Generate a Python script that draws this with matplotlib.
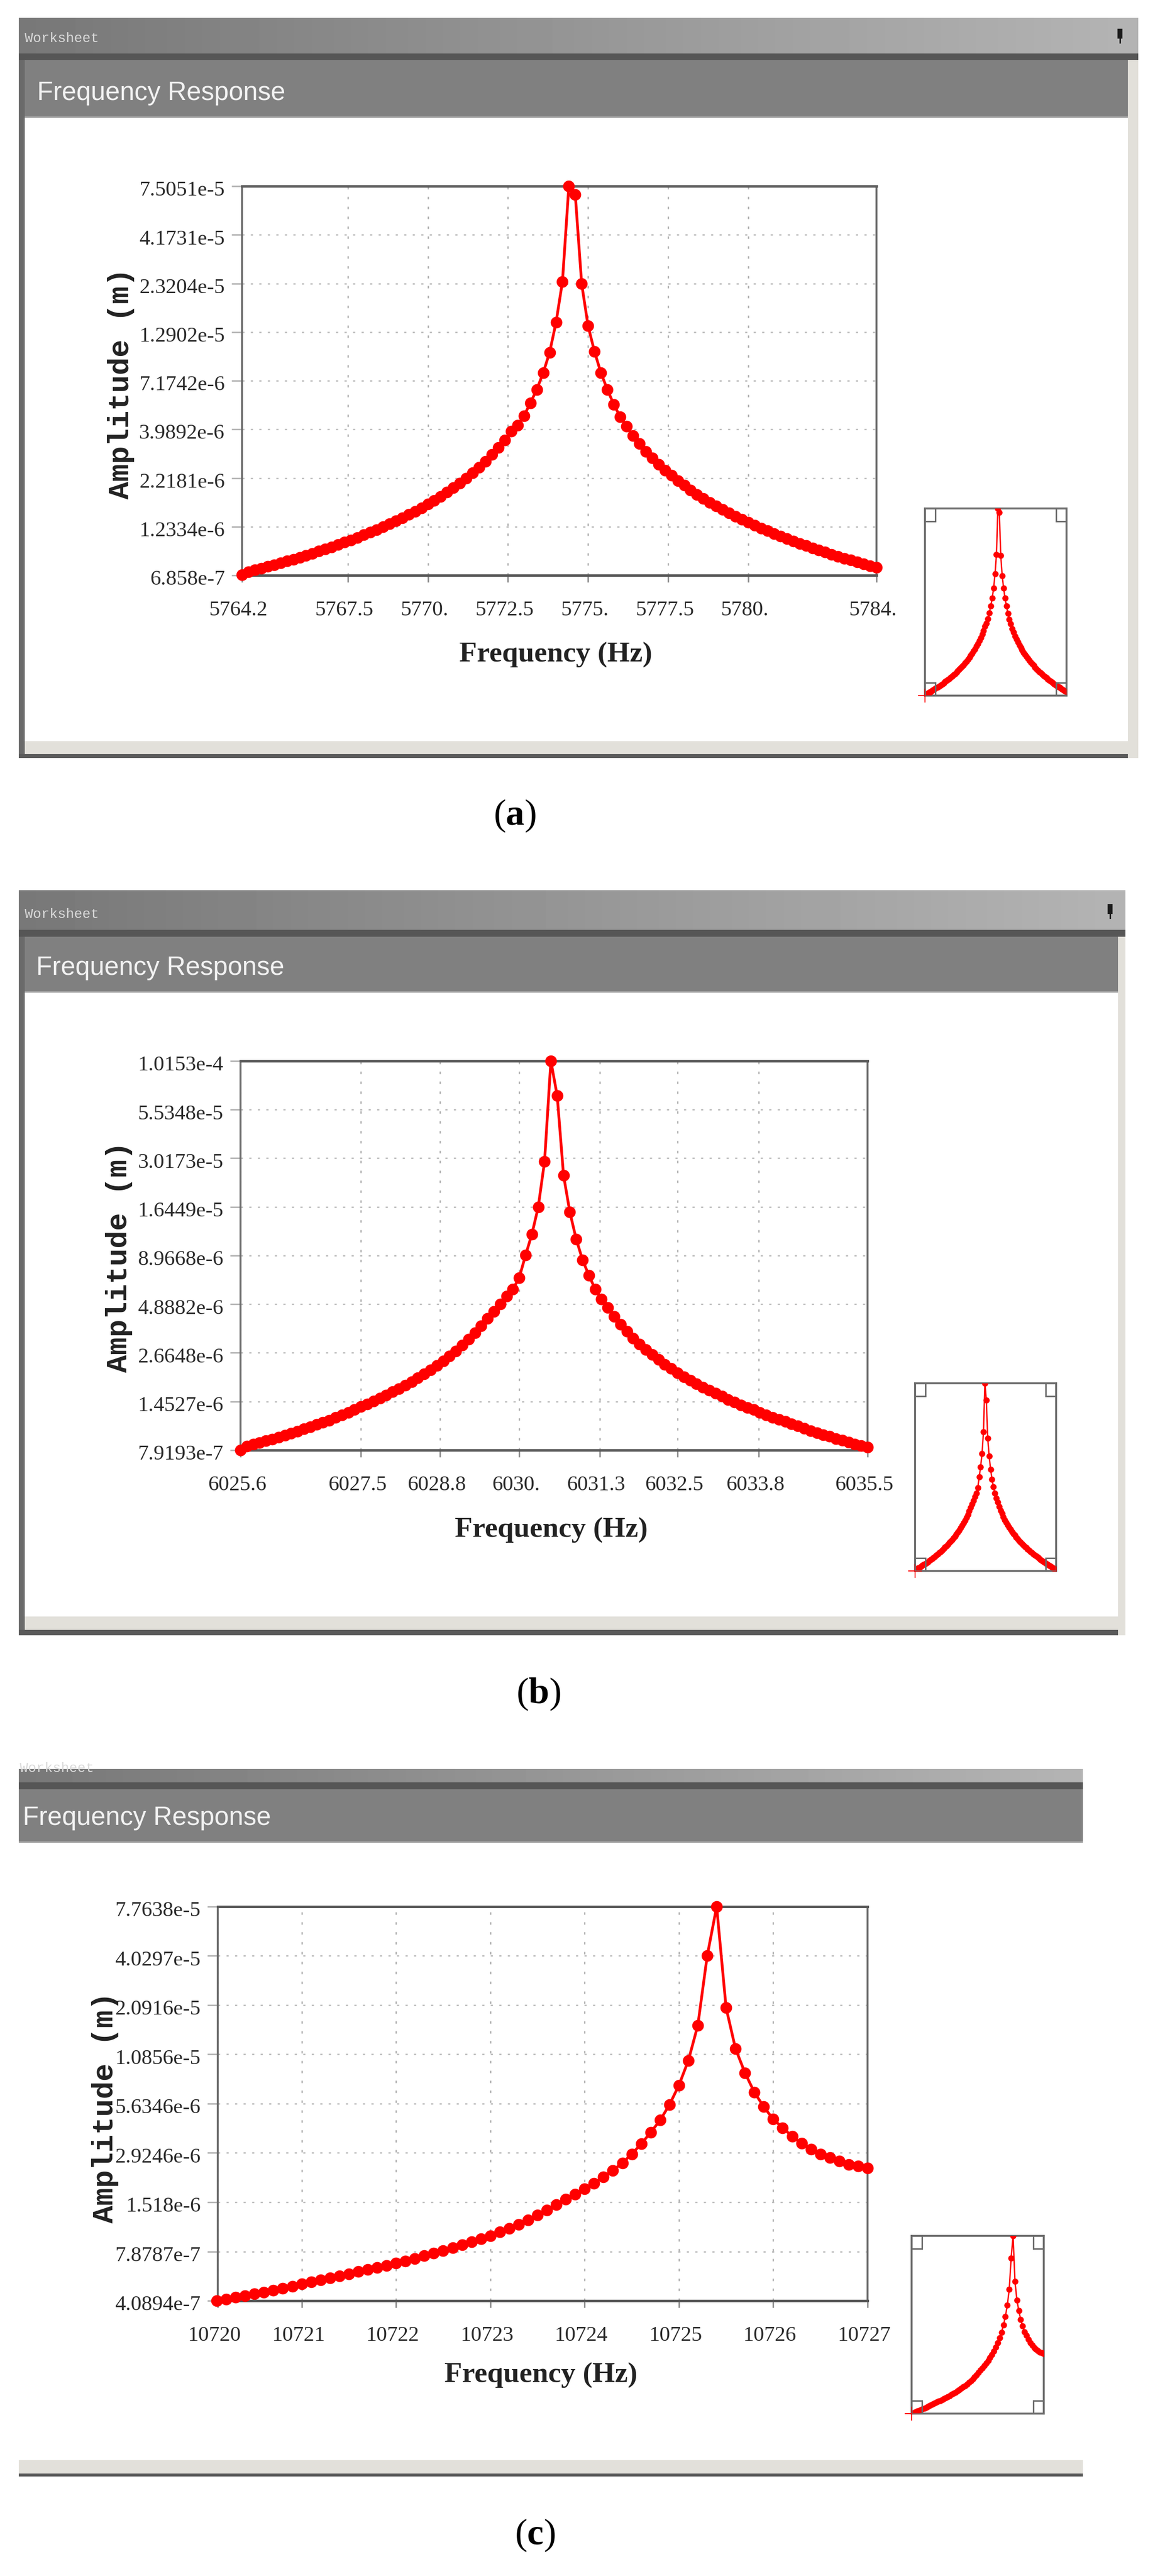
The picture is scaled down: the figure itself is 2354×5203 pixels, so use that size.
import numpy as np
import matplotlib
matplotlib.use("Agg")
import matplotlib.pyplot as plt
from matplotlib.patches import Rectangle
from matplotlib.transforms import ScaledTranslation

W, H = 2354, 5203

# ---------- panel (a) ----------
a_freq = [5764.2, 5764.4, 5764.6, 5764.8, 5765.0, 5765.2, 5765.4, 5765.6, 5765.8, 5766.0,
          5766.2, 5766.4, 5766.6, 5766.8, 5767.0, 5767.2, 5767.4, 5767.6, 5767.8, 5768.0,
          5768.2, 5768.4, 5768.6, 5768.8, 5769.0, 5769.2, 5769.4, 5769.6, 5769.8, 5770.0,
          5770.2, 5770.4, 5770.6, 5770.8, 5771.0, 5771.2, 5771.4, 5771.6, 5771.8, 5772.0,
          5772.2, 5772.4, 5772.6, 5772.8, 5773.0, 5773.2, 5773.4, 5773.6, 5773.8, 5774.0,
          5774.2, 5774.4, 5774.6, 5774.8, 5775.0, 5775.2, 5775.4, 5775.6, 5775.8, 5776.0,
          5776.2, 5776.4, 5776.6, 5776.8, 5777.0, 5777.2, 5777.4, 5777.6, 5777.8, 5778.0,
          5778.2, 5778.4, 5778.6, 5778.8, 5779.0, 5779.2, 5779.4, 5779.6, 5779.8, 5780.0,
          5780.2, 5780.4, 5780.6, 5780.8, 5781.0, 5781.2, 5781.4, 5781.6, 5781.8, 5782.0,
          5782.2, 5782.4, 5782.6, 5782.8, 5783.0, 5783.2, 5783.4, 5783.6, 5783.8, 5784.0]
# amplitude in micrometres
a_amp = [.690, .716, .731, .746, .762, .778, .796, .814, .832, .852,
         .873, .894, .917, .941, .966, .993, 1.021, 1.051, 1.083, 1.116,
         1.152, 1.190, 1.231, 1.274, 1.321, 1.371, 1.426, 1.485, 1.548, 1.618,
         1.694, 1.778, 1.870, 1.973, 2.087, 2.215, 2.361, 2.526, 2.717, 2.939,
         3.20, 3.512, 3.892, 4.2, 4.7, 5.49, 6.46, 7.9, 10.1, 14.5,
         23.7, 75.051, 67.8, 23.1, 13.9, 10.2, 7.9, 6.46, 5.4, 4.65,
         4.15, 3.69, 3.35, 3.06, 2.82, 2.62, 2.44, 2.29, 2.15, 2.03,
         1.92, 1.82, 1.735, 1.655, 1.582, 1.516, 1.455, 1.398, 1.346, 1.297,
         1.252, 1.21, 1.171, 1.134, 1.099, 1.067, 1.036, 1.007, .98, .954,
         .929, .906, .883, .862, .842, .823, .804, .787, .770, .754]
a_xticks = [5764.2, 5767.5, 5770, 5772.5, 5775, 5777.5, 5780, 5784]
a_xlabels = ["5764.2", "5767.5", "5770.", "5772.5", "5775.", "5777.5", "5780.", "5784."]
a_yticks = [6.858e-7, 1.2334e-6, 2.2181e-6, 3.9892e-6, 7.1742e-6, 1.2902e-5, 2.3204e-5, 4.1731e-5, 7.5051e-5]
a_ylabels = ["6.858e-7", "1.2334e-6", "2.2181e-6", "3.9892e-6", "7.1742e-6", "1.2902e-5", "2.3204e-5", "4.1731e-5", "7.5051e-5"]

# ---------- panel (b) ----------
b_freq = [6025.6, 6025.7, 6025.8, 6025.9, 6026.0, 6026.1, 6026.2, 6026.3, 6026.4, 6026.5,
          6026.6, 6026.7, 6026.8, 6026.9, 6027.0, 6027.1, 6027.2, 6027.3, 6027.4, 6027.5,
          6027.6, 6027.7, 6027.8, 6027.9, 6028.0, 6028.1, 6028.2, 6028.3, 6028.4, 6028.5,
          6028.6, 6028.7, 6028.8, 6028.9, 6029.0, 6029.1, 6029.2, 6029.3, 6029.4, 6029.5,
          6029.6, 6029.7, 6029.8, 6029.9, 6030.0, 6030.1, 6030.2, 6030.3, 6030.4, 6030.5,
          6030.6, 6030.7, 6030.8, 6030.9, 6031.0, 6031.1, 6031.2, 6031.3, 6031.4, 6031.5,
          6031.6, 6031.7, 6031.8, 6031.9, 6032.0, 6032.1, 6032.2, 6032.3, 6032.4, 6032.5,
          6032.6, 6032.7, 6032.8, 6032.9, 6033.0, 6033.1, 6033.2, 6033.3, 6033.4, 6033.5,
          6033.6, 6033.7, 6033.8, 6033.9, 6034.0, 6034.1, 6034.2, 6034.3, 6034.4, 6034.5,
          6034.6, 6034.7, 6034.8, 6034.9, 6035.0, 6035.1, 6035.2, 6035.3, 6035.4, 6035.5]
b_amp = [.792, .833, .851, .870, .889, .909, .930, .952, .976, 1.0,
         1.03, 1.06, 1.09, 1.12, 1.15, 1.19, 1.23, 1.27, 1.31, 1.36,
         1.41, 1.46, 1.51, 1.57, 1.64, 1.70, 1.78, 1.86, 1.95, 2.05,
         2.15, 2.27, 2.41, 2.56, 2.73, 2.93, 3.15, 3.42, 3.73, 4.1,
         4.45, 4.89, 5.4, 5.9, 6.8, 9.0, 11.7, 16.4, 29.0, 101.53,
         65.8, 24.4, 15.4, 11.0, 8.5, 7.0, 5.9, 5.2, 4.7, 4.2,
         3.8, 3.48, 3.2, 2.97, 2.78, 2.6, 2.45, 2.31, 2.19, 2.08,
         1.98, 1.89, 1.81, 1.74, 1.67, 1.61, 1.55, 1.49, 1.44, 1.39,
         1.35, 1.31, 1.27, 1.23, 1.19, 1.16, 1.13, 1.10, 1.07, 1.04,
         1.01, .985, .96, .94, .915, .895, .875, .855, .835, .82]
b_xticks = [6025.6, 6027.5, 6028.75, 6030, 6031.27, 6032.5, 6033.78, 6035.5]
b_xlabels = ["6025.6", "6027.5", "6028.8", "6030.", "6031.3", "6032.5", "6033.8", "6035.5"]
b_yticks = [7.9193e-7, 1.4527e-6, 2.6648e-6, 4.8882e-6, 8.9668e-6, 1.6449e-5, 3.0173e-5, 5.5348e-5, 1.0153e-4]
b_ylabels = ["7.9193e-7", "1.4527e-6", "2.6648e-6", "4.8882e-6", "8.9668e-6", "1.6449e-5", "3.0173e-5", "5.5348e-5", "1.0153e-4"]

# ---------- panel (c) ----------
c_freq = [10720.1, 10720.2, 10720.3, 10720.4, 10720.5, 10720.6, 10720.7, 10720.8, 10720.9, 10721.0,
          10721.1, 10721.2, 10721.3, 10721.4, 10721.5, 10721.6, 10721.7, 10721.8, 10721.9, 10722.0,
          10722.1, 10722.2, 10722.3, 10722.4, 10722.5, 10722.6, 10722.7, 10722.8, 10722.9, 10723.0,
          10723.1, 10723.2, 10723.3, 10723.4, 10723.5, 10723.6, 10723.7, 10723.8, 10723.9, 10724.0,
          10724.1, 10724.2, 10724.3, 10724.4, 10724.5, 10724.6, 10724.7, 10724.8, 10724.9, 10725.0,
          10725.1, 10725.2, 10725.3, 10725.4, 10725.5, 10725.6, 10725.7, 10725.8, 10725.9, 10726.0,
          10726.1, 10726.2, 10726.3, 10726.4, 10726.5, 10726.6, 10726.7, 10726.8, 10726.9, 10727.0]
c_amp = [.409, .418, .427, .437, .447, .458, .470, .483, .496, .510,
         .524, .538, .553, .569, .585, .602, .619, .636, .654, .673,
         .695, .718, .743, .770, .798, .829, .862, .897, .933, .970,
         1.02, 1.07, 1.13, 1.20, 1.28, 1.37, 1.47, 1.58, 1.69, 1.81,
         1.95, 2.12, 2.32, 2.56, 2.88, 3.30, 3.84, 4.52, 5.56, 7.21,
         10.01, 15.97, 40.4, 77.638, 20.2, 11.7, 8.5, 6.55, 5.40, 4.58,
         4.09, 3.65, 3.32, 3.08, 2.87, 2.75, 2.63, 2.50, 2.45, 2.39]
c_xticks = [10720.11, 10721, 10722, 10723, 10724, 10725, 10726, 10727]
c_xlabels = ["10720", "10721", "10722", "10723", "10724", "10725", "10726", "10727"]
c_yticks = [4.0894e-7, 7.8787e-7, 1.518e-6, 2.9246e-6, 5.6346e-6, 1.0856e-5, 2.0916e-5, 4.0297e-5, 7.7638e-5]
c_ylabels = ["4.0894e-7", "7.8787e-7", "1.518e-6", "2.9246e-6", "5.6346e-6", "1.0856e-5", "2.0916e-5", "4.0297e-5", "7.7638e-5"]

plt.rcParams["font.family"] = ["Liberation Serif", "DejaVu Serif"]
plt.rcParams["mathtext.fontset"] = "custom"
plt.rcParams["mathtext.bf"] = "Liberation Serif:bold"
plt.rcParams["mathtext.rm"] = "Liberation Serif"

RED = "#ff0000"
fig = plt.figure(figsize=(W / 100, H / 100), dpi=100, facecolor="white")

# background layer in image pixels, for the window furniture
bg = fig.add_axes([0, 0, 1, 1], zorder=0)
bg.set_axis_off()


def px_axes(x0, y0, x1, y1, zorder=2):
    return fig.add_axes([x0 / W, 1 - y1 / H, (x1 - x0) / W, (y1 - y0) / H], zorder=zorder)


def box(x0, y0, x1, y1, color):
    bg.add_patch(Rectangle((x0, y0), x1 - x0, y1 - y0, color=color, lw=0))


def window(x0, x1, inner_x0, inner_x1, top, bar_end, strip_end, head_end, foot0, foot1, foot2, side=True):
    grad = np.linspace(0, 1, 256).reshape(1, -1)
    bg.imshow(grad, extent=(x0, x1, bar_end, top), aspect="auto", cmap="gray", vmin=-1.99, vmax=2.25, zorder=1)
    box(x0, bar_end, x1, strip_end, "#565656")
    box(inner_x0, strip_end, inner_x1, head_end, "#808080")
    box(inner_x0, head_end - 3, inner_x1, head_end, "#a0a0a0")
    if side:
        box(x0, strip_end, inner_x0, foot2, "#6a6a6a")
        box(inner_x1, strip_end, x1, foot2, "#e2e0da")
    box(inner_x0 if side else x0, foot0, inner_x1 if side else x1, foot1, "#e2e0da")
    box(x0, foot1, inner_x1 if side else x1, foot2, "#5a5a5a")


def captions(sx, sy, letter, lx, ly, pin=None):
    bg.text(sx, sy, "Frequency Response", family="Liberation Sans", fontsize=38,
            color="#f2f2f2", va="center", ha="left", zorder=3)
    if pin is not None:
        box(pin[0] - 5, pin[1] - 14, pin[0] + 5, pin[1] + 6, "#1c1c1c")
        box(pin[0] - 1, pin[1] + 6, pin[0] + 2, pin[1] + 16, "#1c1c1c")
    bg.text(lx, ly, "($\\mathbf{" + letter + "}$)", fontsize=54, color="black", ha="center", va="center")


def panel(box_px, freq, amp, xlim, xticks, xlabels, yticks, ylabels, xlab_xy, ylab_xy, inset_px):
    ax = px_axes(*box_px)
    amp_m = np.array(amp) * 1e-6
    ax.set_yscale("log")
    ax.set_xlim(*xlim)
    ax.set_ylim(yticks[0], yticks[-1])
    ax.set_xticks(xticks)
    ax.set_xticklabels(xlabels, fontsize=31, color="#2a2a2a")
    ax.set_yticks(yticks)
    ax.set_yticklabels(ylabels, fontsize=31, color="#2a2a2a")
    ax.minorticks_off()
    ax.tick_params(axis="y", length=15, width=2.2, color="#b5b5b5", pad=10)
    ax.tick_params(axis="x", length=10, width=2.2, color="#909090", pad=27)
    # labels sit a little below their grid line and left of their tick in the reference
    for lab in ax.get_yticklabels():
        lab.set_verticalalignment("center")
        lab.set_transform(lab.get_transform() + ScaledTranslation(0, -0.09, fig.dpi_scale_trans))
    for lab in ax.get_xticklabels():
        lab.set_transform(lab.get_transform() + ScaledTranslation(-0.07, 0, fig.dpi_scale_trans))
    ax.grid(True, axis="y", color="#bcbcbc", lw=2.0, ls=(0, (1.6, 4.6)))
    ax.grid(True, axis="x", color="#ababab", lw=1.8, ls=(0, (2.0, 6.0)))
    ax.set_axisbelow(True)
    for s in ("top", "bottom"):
        ax.spines[s].set_linewidth(3.6)
        ax.spines[s].set_color("#585858")
    for s in ("left", "right"):
        ax.spines[s].set_linewidth(2.8)
        ax.spines[s].set_color("#6c6c6c")
    ax.plot(freq, amp_m, color=RED, lw=4.0, marker="o", ms=17, mew=0, clip_on=False, zorder=5)
    ax.set_xlabel("Frequency (Hz)", family="Liberation Serif", weight="bold", fontsize=42, color="#222222")
    ax.xaxis.set_label_coords(xlab_xy[0], xlab_xy[1], transform=bg.transData)
    ax.xaxis.label.set_verticalalignment("center")
    ax.set_ylabel("Amplitude (m)", family="Liberation Mono", weight="bold", fontsize=43, color="#222222")
    ax.yaxis.set_label_coords(ylab_xy[0], ylab_xy[1], transform=bg.transData)
    ax.yaxis.label.set_verticalalignment("center")

    # thumbnail in the lower right corner
    th = px_axes(*inset_px, zorder=3)
    th.set_yscale("log")
    th.set_xlim(*xlim)
    th.set_ylim(yticks[0], yticks[-1])
    th.set_xticks([])
    th.set_yticks([])
    th.minorticks_off()
    for s in th.spines.values():
        s.set_linewidth(2.8)
        s.set_color("#6c6c6c")
    th.plot(freq, amp_m, color=RED, lw=2.0, marker="o", ms=9, mew=0, zorder=3)
    th.plot([xlim[0]], [yticks[0]], color=RED, marker="+", ms=20, mew=1.4, clip_on=False, zorder=4)
    w = 21 / (inset_px[2] - inset_px[0])
    h = 26 / (inset_px[3] - inset_px[1])
    for cx, cy in [(0, 0), (1 - w, 0), (0, 1 - h), (1 - w, 1 - h)]:
        th.add_patch(Rectangle((cx, cy), w, h, transform=th.transAxes, fill=False, ec="#6c6c6c", lw=2.2, zorder=5))
    return ax


# panel (a)
window(38, 2300, 50, 2279, 36, 108, 121, 238, 1497, 1523, 1531)
captions(75, 188, "a", 1040, 1648, pin=(2263, 72))
bg.text(50, 78, "Worksheet", family="Liberation Mono", fontsize=20, color="#dadada", va="center", zorder=3)
panel((489, 376, 1771, 1162), a_freq, a_amp, (5764.2, 5784.0), a_xticks, a_xlabels, a_yticks, a_ylabels,
      (1123, 1322), (245, 775), (1869, 1027, 2155, 1405))

# panel (b)
window(38, 2274, 50, 2259, 1798, 1878, 1892, 2005, 3265, 3292, 3303)
captions(73, 1955, "b", 1088, 3422, pin=(2243, 1840))
bg.text(50, 1847, "Worksheet", family="Liberation Mono", fontsize=20, color="#dadada", va="center", zorder=3)
panel((486, 2143, 1753, 2929), b_freq, b_amp, (6025.6, 6035.5), b_xticks, b_xlabels, b_yticks, b_ylabels,
      (1114, 3090), (240, 2539), (1849, 2794, 2134, 3173))

# panel (c), its title bar is cut by the crop of the screenshot
window(38, 2188, 38, 2188, 3573, 3600, 3614, 3722, 4969, 4996, 5002, side=False)
captions(46, 3672, "c", 1081, 5121)
ws = bg.text(40, 3572, "Worksheet", family="Liberation Mono", fontsize=20, color="#dadada", va="center", zorder=3)
ws.set_clip_path(Rectangle((38, 3573), 200, 27, transform=bg.transData))
panel((440, 3851, 1753, 4647), c_freq, c_amp, (10720.11, 10727.0), c_xticks, c_xlabels, c_yticks, c_ylabels,
      (1093, 4797), (213, 4257), (1842, 4516, 2109, 4875))

bg.set_xlim(0, W)
bg.set_ylim(H, 0)

fig.savefig("out.png", dpi=100, facecolor="white")
